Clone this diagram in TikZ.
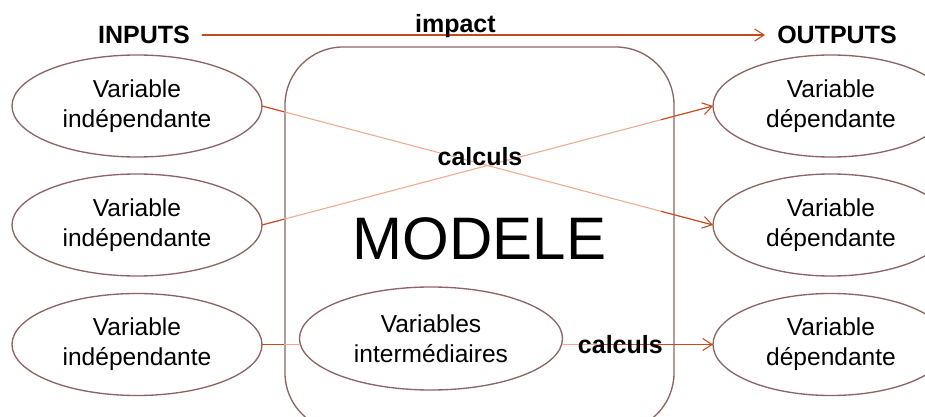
\documentclass[tikz,border=0pt]{standalone}
\usepackage{fontspec}
\setmainfont{Liberation Sans}
\usetikzlibrary{shapes.geometric,arrows.meta,calc}

\definecolor{bordure}{RGB}{140,100,100}
\definecolor{fleche}{RGB}{195,75,30}
\definecolor{flechepale}{RGB}{238,170,145}

\tikzset{
  var/.style={draw=bordure, line width=1pt, ellipse, outer sep=0pt, inner sep=0pt,
    minimum width=187.5pt, minimum height=76.5pt, align=center,
    font=\fontsize{18.4}{22.5}\selectfont},
  vardep/.style={var, minimum width=177pt},
  modele/.style={draw=bordure, line width=1pt, rounded corners=43.5pt,
    minimum width=291.75pt, minimum height=288pt,
    font=\fontsize{45}{50}\selectfont},
  titre/.style={font=\fontsize{18.75}{22}\selectfont\bfseries, inner sep=9pt},
  etiq/.style={font=\fontsize{18.75}{22}\selectfont\bfseries, inner sep=0pt},
  lien/.style={draw=fleche, line width=0.8pt},
  lienpale/.style={draw=flechepale, line width=0.8pt}
}

\begin{document}
\begin{tikzpicture}[x=0.75pt, y=-0.75pt, line cap=round, line join=round,
    >={Straight Barb[length=7pt,width=9pt]}]

  \useasboundingbox (0,0) rectangle (925,417);

  % Le modele
  \node[modele] (mod) at (479.5,239) {MODELE};

  % Inputs
  \node[titre] (in) at (144,35) {INPUTS};
  \node[var] (a1) at (137,106) {Variable\\indépendante};
  \node[var] (a2) at (137,225) {Variable\\indépendante};
  \node[var] (a3) at (137,344.5) {Variable\\indépendante};

  % Outputs
  \node[titre] (out) at (837,35) {OUTPUTS};
  \node[vardep] (d1) at (831,106) {Variable\\dépendante};
  \node[vardep] (d2) at (831,225) {Variable\\dépendante};
  \node[vardep] (d3) at (831,344.5) {Variable\\dépendante};

  % Variables intermediaires
  \node[var, minimum width=197.25pt, minimum height=77.25pt] (inter) at (431,338.5)
    {Variables\\intermédiaires};

  % Fleche impact
  \draw[lien, ->] (in.east) -- (out.west)
    node[etiq, pos=0.45, anchor=base, yshift=1.5pt] (imp) {impact};

  % Calculs croises
  \draw[lienpale] (a1.east) -- (d2.west);
  \draw[lienpale] (a2.east) -- (d1.west);
  \draw[lien] (a1.east) -- ($(a1.east)!17pt!(d2.west)$);
  \draw[lien] (a2.east) -- ($(a2.east)!17pt!(d1.west)$);
  \draw[lien, ->] ($(d2.west)!40pt!(a1.east)$) -- (d2.west);
  \draw[lien, ->] ($(d1.west)!40pt!(a2.east)$) -- (d1.west);
  \node[etiq] (calc1) at (480,157) {calculs};

  % Chaine du bas
  \draw[lien] (a3.east) -- (a3.east -| mod.west);
  \draw[lienpale] (a3.east -| mod.west) -- (a3.east -| inter.west);
  \draw[lienpale] (inter.east |- d3.west) -- (600,344.5);
  \draw[lien, ->] (600,344.5) -- (d3.west)
    node[etiq, pos=0.18] (calc2) {calculs};

\end{tikzpicture}
\end{document}
